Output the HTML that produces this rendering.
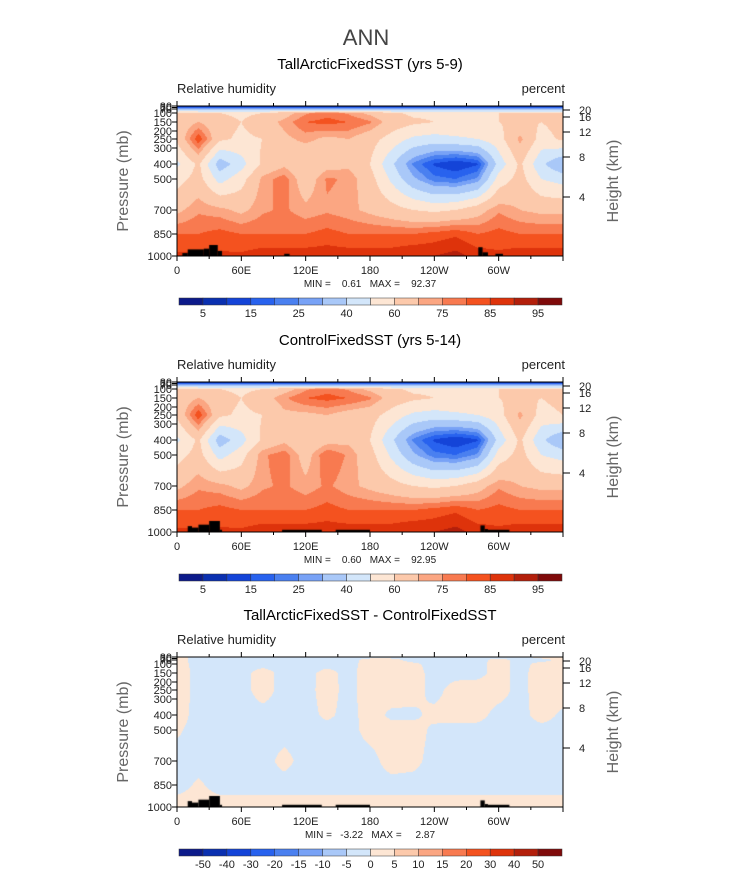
<!DOCTYPE html>
<html><head><meta charset="utf-8">
<style>
body{margin:0;background:#fff;width:733px;height:872px;overflow:hidden;font-family:"Liberation Sans",sans-serif;}
svg text{font-family:"Liberation Sans",sans-serif;}
#wrap{position:relative;width:733px;height:872px;}
canvas{position:absolute;}
</style></head>
<body>
<div id="wrap">
<canvas id="c1" width="386" height="150" style="left:177px;top:106px"></canvas>
<canvas id="c2" width="386" height="150" style="left:177px;top:382px"></canvas>
<canvas id="c3" width="386" height="150" style="left:177px;top:657px"></canvas>
<svg id="ov" width="733" height="872" style="position:absolute;left:0;top:0"></svg>
</div>
<script>
// ---- data ----
const lons = [0,20,40,60,80,100,120,140,160,180,200,220,240,260,280,300,320,340,360];
const levels = [30,70,100,150,250,400,500,700,850,1000];
const rh1 = [
[3,3,3,3,3,3,3,3,3,3,3,3,3,3,3,3,3,3,3],
[30,30,30,30,30,30,30,30,30,30,30,30,30,30,30,30,30,30,30],
[62,62,60,58,60,66,74,78,74,68,62,58,58,58,58,60,62,60,62],
[64,70,64,60,66,72,80,82,80,76,66,62,60,60,60,60,62,60,64],
[62,84,62,58,60,68,72,68,70,64,56,48,46,48,50,56,72,56,62],
[48,62,34,46,62,68,60,66,68,60,42,24,14,10,14,44,62,42,30],
[56,64,46,56,72,78,64,76,74,64,48,32,22,20,26,54,64,50,46],
[68,74,72,68,74,76,72,74,72,68,64,60,58,60,66,74,70,68,68],
[80,80,82,80,80,80,80,82,80,80,80,80,82,84,80,82,80,80,80],
[86,86,86,86,88,88,88,88,88,88,88,90,90,92,88,86,88,88,88]];
const rh2 = [
[3,3,3,3,3,3,3,3,3,3,3,3,3,3,3,3,3,3,3],
[30,30,30,30,30,30,30,30,30,30,30,30,30,30,30,30,30,30,30],
[62,62,60,58,60,66,74,78,74,68,62,58,58,58,58,60,62,60,62],
[64,70,64,60,66,74,80,82,80,76,66,62,60,60,60,60,62,60,64],
[62,84,62,58,60,68,68,70,66,64,56,48,46,48,50,56,72,56,60],
[48,62,34,46,62,68,60,66,68,60,42,24,14,10,14,44,62,42,30],
[56,64,46,56,74,78,66,80,74,64,48,32,22,20,26,54,64,50,46],
[68,74,72,68,74,76,72,76,72,68,64,60,58,60,66,74,70,68,68],
[80,80,82,80,80,80,80,82,80,80,80,80,82,84,80,82,80,80,80],
[86,86,86,86,88,88,88,88,88,88,88,90,90,92,88,86,88,88,88]];
const diff = [
[0.5,-0.5,-0.5,-0.5,-0.5,-0.5,-0.5,-0.5,-0.5,-0.5,-0.5,-0.5,-0.5,-0.5,-0.5,-0.5,-0.5,0.5,0.5],
[0.5,-0.5,-0.5,-0.5,-0.5,-0.5,-0.5,-0.5,-0.5,0.5,0.5,-0.5,-0.5,-0.5,-0.5,0.5,-0.5,-0.5,0.5],
[0.6,-0.5,-0.5,-0.5,-0.5,-0.5,-0.5,-0.5,-0.5,0.6,0.6,0.3,-0.5,-0.5,-0.5,0.6,-0.5,0.5,0.6],
[0.8,-0.5,-0.5,-0.5,0.6,-0.5,-0.5,0.5,-0.5,0.8,0.8,0.6,-0.5,-0.5,-0.5,0.6,-0.5,0.8,0.8],
[0.8,-0.5,-0.5,-0.5,0.6,-0.5,-0.5,0.6,-0.5,0.8,0.8,0.6,-0.5,0.6,0.8,0.6,-0.5,0.8,0.8],
[0.6,-0.5,-0.5,-0.5,-0.5,-0.5,-0.5,0.3,-0.5,0.6,-0.3,-0.3,0.4,0.6,0.5,-0.5,-0.5,0.6,-0.3],
[0.2,-0.5,-0.5,-0.5,-0.5,-0.5,-0.5,-0.5,-0.5,0.5,0.6,0.6,-0.3,-0.5,-0.5,-0.5,-0.5,-0.5,-0.5],
[-0.5,-0.5,-0.5,-0.5,-0.5,0.4,-0.5,-0.5,-0.5,-0.5,0.6,0.4,-0.5,-0.5,-0.5,-0.5,-0.5,-0.5,-0.5],
[-0.5,0.2,-0.5,-0.5,-0.5,-0.5,-0.5,-0.5,-0.5,-0.5,-0.5,-0.5,-0.5,-0.5,-0.5,-0.5,-0.5,-0.5,-0.5],
[0.6,0.6,0.6,0.6,0.6,0.6,0.6,0.6,0.6,0.6,0.6,0.6,0.6,0.6,0.6,0.6,0.6,0.6,0.6]];
const land1 = [[5,10,980],[10,25,955],[25,30,950],[30,38,925],[38,42,965],[100,105,985],[281,285,940],[285,290,975],[297,304,985]];
const land2 = [[10,14,960],[14,20,970],[20,30,950],[30,40,925],[40,42,985],[98,135,985],[148,180,985],[283,287,955],[287,290,980],[290,310,985]];
const land3 = land2;
const bounds1 = [5,10,15,20,25,30,40,50,60,70,75,80,85,90,95];
const boundsD = [-50,-40,-30,-20,-15,-10,-5,0,5,10,15,20,30,40,50];
const labels1 = ["5","15","25","40","60","75","85","95"];
const labelsD = ["-50","-40","-30","-20","-15","-10","-5","0","5","10","15","20","30","40","50"];
const pTicks = [30,50,70,100,150,200,250,300,400,500,700,850,1000];
const hTicks = [20,16,12,8,4];
const xTicks = ["0","60E","120E","180","120W","60W",""];
const colors = ["#0c1a8a","#0a30b0","#1444d8","#2862ee","#4a80f0","#78a2f6","#a9c8f8","#d3e6fa","#fde6d4","#fcc9ab","#fba682","#f87a50","#f4521f","#de330b","#b31f0b","#7f0a0a"];
// ---- axes ----
const PW=386, PH=150;
const pTab=[[30,0],[50,1.5],[70,3],[100,7],[150,16],[200,25],[250,33],[300,42],[400,58],[500,73],[700,104],[850,128],[1000,150]];
function yOfP(p){for(let i=0;i<pTab.length-1;i++){if(p<=pTab[i+1][0]){const a=pTab[i],b=pTab[i+1];return a[1]+(p-a[0])/(b[0]-a[0])*(b[1]-a[1]);}}return PH;}
const hTab=[[20,4],[16,11],[12,26],[8,51],[4,91]];
function yOfH(h){for(const t of hTab) if(t[0]===h) return t[1];return 0;}
function xOfLon(l){return l/360*PW;}
function colorIdx(v,b){let i=0;while(i<b.length&&v>=b[i])i++;return i;}
function hex(c){return [parseInt(c.substr(1,2),16),parseInt(c.substr(3,2),16),parseInt(c.substr(5,2),16)];}
const rgb=colors.map(hex);
function drawField(id,grid,bounds,land){
  const cv=document.getElementById(id),ctx=cv.getContext('2d');
  const img=ctx.createImageData(PW,PH);
  const ry=levels.map(yOfP);
  for(let y=0;y<PH;y++){
    let r=0;while(r<ry.length-2&&y+0.5>ry[r+1])r++;
    const fy=Math.min(1,Math.max(0,(y+0.5-ry[r])/(ry[r+1]-ry[r])));
    for(let x=0;x<PW;x++){
      const lon=(x+0.5)/PW*360;let c=Math.min(lons.length-2,Math.floor(lon/20));
      const fx=(lon-lons[c])/20;
      const v=(grid[r][c]*(1-fx)+grid[r][c+1]*fx)*(1-fy)+(grid[r+1][c]*(1-fx)+grid[r+1][c+1]*fx)*fy;
      const k=rgb[colorIdx(v,bounds)],o=(y*PW+x)*4;
      img.data[o]=k[0];img.data[o+1]=k[1];img.data[o+2]=k[2];img.data[o+3]=255;
    }
  }
  ctx.putImageData(img,0,0);
  ctx.fillStyle='#000';
  for(const s of land){const x0=xOfLon(s[0]),x1=xOfLon(s[1]),yt=yOfP(s[2]);ctx.fillRect(x0,yt,x1-x0,PH-yt);}
}
drawField('c1',rh1,bounds1,land1);
drawField('c2',rh2,bounds1,land2);
drawField('c3',diff,boundsD,land3);
// ---- overlay ----
const NS='http://www.w3.org/2000/svg',ov=document.getElementById('ov');
function el(tag,attrs,txt){const e=document.createElementNS(NS,tag);for(const k in attrs)e.setAttribute(k,attrs[k]);if(txt!==undefined)e.textContent=txt;ov.appendChild(e);return e;}
let t=el('text',{x:366,y:45,'text-anchor':'middle','font-size':22,fill:'#444'},'ANN');


const NB='\u00a0';
const panels=[{top:106,title:'TallArcticFixedSST (yrs 5-9)',mm:'MIN ='+NB.repeat(4)+'0.61'+NB.repeat(3)+'MAX ='+NB.repeat(4)+'92.37',cb:298,labs:labels1,step:2,start:1},
{top:382,title:'ControlFixedSST (yrs 5-14)',mm:'MIN ='+NB.repeat(4)+'0.60'+NB.repeat(3)+'MAX ='+NB.repeat(4)+'92.95',cb:574,labs:labels1,step:2,start:1},
{top:657,title:'TallArcticFixedSST - ControlFixedSST',mm:'MIN ='+NB.repeat(3)+'-3.22'+NB.repeat(3)+'MAX ='+NB.repeat(5)+'2.87',cb:849,labs:labelsD,step:1,start:1}];
const L=177;
panels.forEach((p,pi)=>{
  const T=p.top;
  let e=el('text',{x:370,y:T-37,'text-anchor':'middle','font-size':15,fill:'#000'},p.title);
  
  
  e=el('text',{x:L,y:T-13,'font-size':13,fill:'#222'},'Relative humidity');
  
  
  e=el('text',{x:L+PW+2,y:T-13,'text-anchor':'end','font-size':13,fill:'#222'},'percent');
  
  
  e=el('rect',{x:L,y:T,width:PW,height:PH,fill:'none',stroke:'#000','stroke-width':1});
  
  
  xTicks.forEach((lab,i)=>{const x=L+xOfLon(i*60);
    el('line',{x1:x,y1:T+PH,x2:x,y2:T+PH+5,stroke:'#000'});el('line',{x1:x,y1:T,x2:x,y2:T-5,stroke:'#000'});
    if(i<6){const x2=L+xOfLon(i*60+30);el('line',{x1:x2,y1:T+PH,x2:x2,y2:T+PH+3,stroke:'#000'});el('line',{x1:x2,y1:T,x2:x2,y2:T-3,stroke:'#000'});}
    if(lab){e=el('text',{x:x,y:T+PH+18,'text-anchor':'middle','font-size':11,fill:'#222'},lab);
    
    }
  });
  pTicks.forEach(pp=>{const y=T+yOfP(pp);el('line',{x1:L-5,y1:y,x2:L,y2:y,stroke:'#000'});
    e=el('text',{x:L-5,y:y+4,'text-anchor':'end','font-size':11,fill:'#222'},String(pp));
    
    });
  hTicks.forEach(h=>{const y=T+yOfH(h);el('line',{x1:L+PW,y1:y,x2:L+PW+7,y2:y,stroke:'#000'});
    e=el('text',{x:L+PW+16,y:y+4,'font-size':11,fill:'#222'},String(h));
    
    });
  e=el('text',{x:0,y:0,'font-size':16,fill:'#666','text-anchor':'middle',transform:`translate(128,${T+75}) rotate(-90)`},'Pressure  (mb)');
  
  
  e=el('text',{x:0,y:0,'font-size':16,fill:'#666','text-anchor':'middle',transform:`translate(618,${T+75}) rotate(-90)`},'Height  (km)');
  
  
  e=el('text',{x:370,y:T+PH+31,'text-anchor':'middle','font-size':10,fill:'#222'},p.mm);
  
  
  const cw=383/16;
  colors.forEach((c,i)=>{e=el('rect',{x:179+i*cw,y:p.cb,width:cw,height:7,fill:c,stroke:'#333','stroke-width':0.5});
    
    });
  p.labs.forEach((lab,j)=>{const bi=p.start-1+j*p.step;const x=179+(bi+1)*cw;
    e=el('text',{x:x,y:p.cb+19,'text-anchor':'middle','font-size':11,fill:'#222'},lab);
    
    });
});
</script>
</body></html>
